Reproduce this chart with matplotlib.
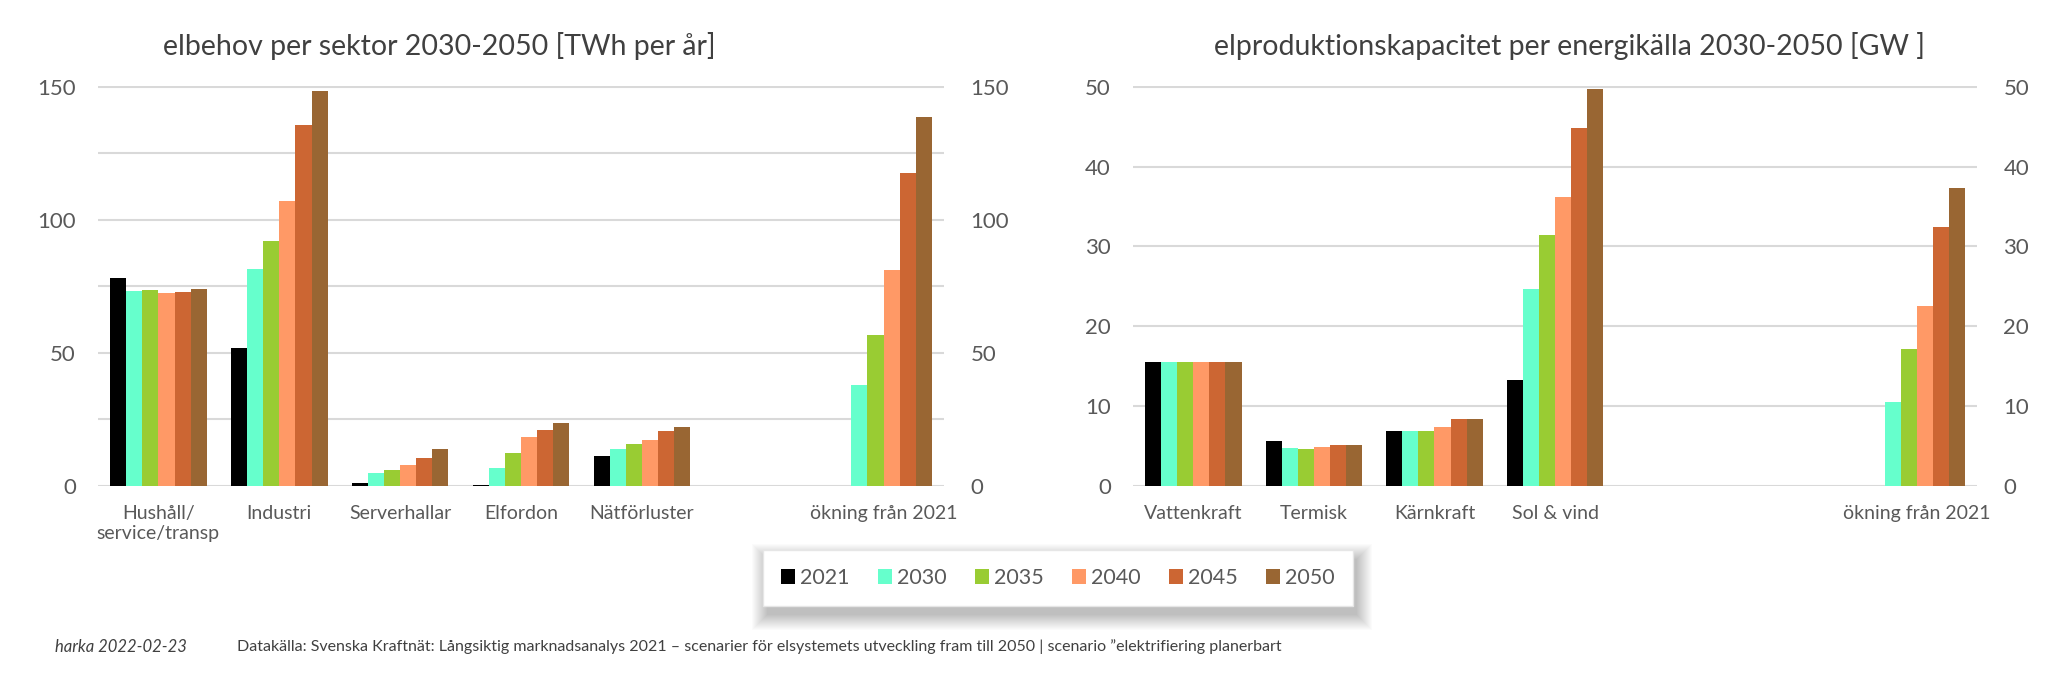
import numpy as np
import matplotlib
matplotlib.use('Agg')
import matplotlib.pyplot as plt
from matplotlib.patches import Rectangle

plt.rcParams['font.family'] = ['Lato', 'DejaVu Sans']

years = ['2021', '2030', '2035', '2040', '2045', '2050']
colors = ['#000000', '#66FFCC', '#99CC33', '#FF9966', '#CC6633', '#996633']

# ---- elbehov per sektor [TWh per år] ----
sectors = ['Hushåll/\nservice/transp', 'Industri', 'Serverhallar', 'Elfordon',
           'Nätförluster', '', 'ökning från 2021']
hushall = [78.0, 73.3, 73.5, 72.6, 72.9, 74.0]
industri = [52.0, 81.4, 92.0, 107.1, 135.6, 148.3]
serverhallar = [1.1, 4.7, 6.1, 8.0, 10.7, 14.0]
elfordon = [0.3, 6.8, 12.4, 18.3, 21.1, 23.6]
natforluster = [11.1, 14.0, 15.8, 17.4, 20.5, 22.2]
tom = [np.nan] * 6
okning_twh = [np.nan, 37.9, 56.9, 81.3, 117.5, 138.8]

# ---- elproduktionskapacitet per energikälla [GW] ----
sources = ['Vattenkraft', 'Termisk', 'Kärnkraft', 'Sol & vind', '', '',
           'ökning från 2021']
vattenkraft = [15.5, 15.5, 15.5, 15.5, 15.5, 15.5]
termisk = [5.6, 4.75, 4.65, 4.9, 5.1, 5.1]
karnkraft = [6.85, 6.85, 6.85, 7.35, 8.35, 8.35]
sol_vind = [13.3, 24.7, 31.5, 36.2, 44.8, 49.7]
okning_gw = [np.nan, 10.5, 17.1, 22.6, 32.4, 37.3]

W, H = 2048, 675
fig = plt.figure(figsize=(W / 100, H / 100), dpi=100)

txt = '#595959'
grid = '#D9D9D9'


def draw(rect, cats, rows, ymax, major, minor):
    ax = fig.add_axes(rect)
    data = np.array(rows, dtype=float)
    x = np.arange(len(cats))
    w = 0.8 / len(years)
    for i in range(len(years)):
        ax.bar(x - 0.4 + w * (i + 0.5), data[:, i], width=w, color=colors[i],
               label=years[i], zorder=3)
    ax.set_xlim(-0.5, len(cats) - 0.5)
    ax.set_ylim(0, ymax * 1.002)
    ax.set_yticks(major)
    ax.set_yticks(minor, minor=True)
    ax.grid(axis='y', which='both', color=grid, lw=1.5, zorder=0)
    ax.set_xticks(x, cats)
    for s in ax.spines.values():
        s.set_visible(False)
    ax.tick_params(axis='y', which='both', length=0, pad=16, labelsize=16,
                   labelcolor=txt)
    ax.tick_params(axis='x', length=0, pad=14, labelsize=14, labelcolor=txt)
    ax2 = ax.twinx()
    ax2.set_ylim(ax.get_ylim())
    ax2.set_yticks(major)
    for s in ax2.spines.values():
        s.set_visible(False)
    ax2.tick_params(axis='y', length=0, pad=19, labelsize=16, labelcolor=txt)
    return ax


bottom = 1 - 486 / H
height = (486 - 86) / H

ax_l = draw([98 / W, bottom, 846 / W, height], sectors,
            [hushall, industri, serverhallar, elfordon, natforluster, tom, okning_twh],
            150, [0, 50, 100, 150], [25, 75, 125])
ax_r = draw([1133 / W, bottom, 844 / W, height], sources,
            [vattenkraft, termisk, karnkraft, sol_vind, tom, tom, okning_gw],
            50, [0, 10, 20, 30, 40, 50], [])

fig.text(439 / W, 1 - 46 / H, 'elbehov per sektor 2030-2050 [TWh per år]',
         ha='center', va='center', fontsize=20.5, color='#404040')
fig.text(1570 / W, 1 - 46 / H, 'elproduktionskapacitet per energikälla 2030-2050 [GW ]',
         ha='center', va='center', fontsize=20.5, color='#404040')

handles, labels = ax_l.get_legend_handles_labels()
leg = fig.legend(handles, labels, loc='center',
                 bbox_to_anchor=(1058 / W, 1 - 578 / H), ncol=6, fontsize=15.5,
                 handlelength=0.65, handleheight=0.65, handletextpad=0.25,
                 columnspacing=1.3, borderpad=0.85, fancybox=False,
                 frameon=True, edgecolor='#E6E6E6', framealpha=1)
for t in leg.get_texts():
    t.set_color(txt)
leg.set_zorder(10)

# soft shadow under the legend box
fig.canvas.draw()
bb = leg.get_window_extent()
for k in range(16):
    r = Rectangle((bb.x0 + 4 - k, bb.y0 - 9 - k), bb.width + 2 * k, bb.height + 2 * k,
                  transform=None, facecolor='black', edgecolor='none',
                  alpha=0.014, zorder=5)
    fig.add_artist(r)

fig.text(55 / W, 1 - 647 / H, 'harka 2022-02-23', style='italic', fontsize=12,
         color='#404040', va='center')
fig.text(237 / W, 1 - 647 / H,
         'Datakälla: Svenska Kraftnät: Långsiktig marknadsanalys 2021 – scenarier för '
         'elsystemets utveckling fram till 2050 | scenario \u201delektrifiering planerbart',
         fontsize=11.5, color='#404040', va='center')

fig.savefig('out.png', dpi=100, facecolor='white')
